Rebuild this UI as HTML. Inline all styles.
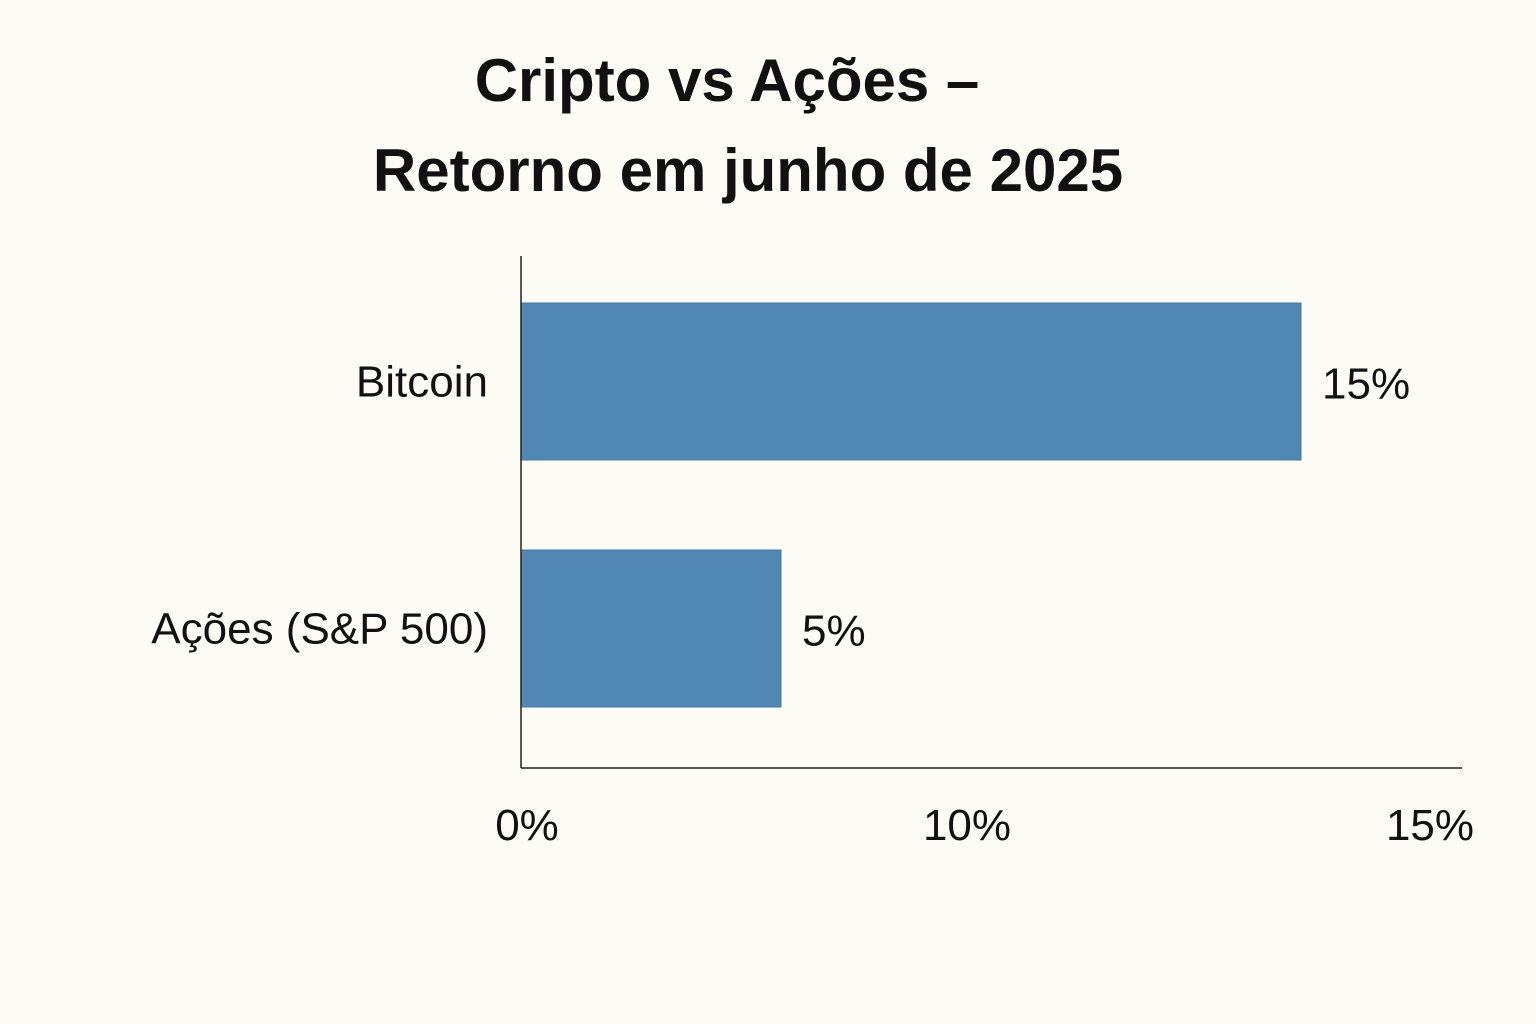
<!DOCTYPE html>
<html><head><meta charset="utf-8"><style>
html,body{margin:0;padding:0;background:#fdfbf5;}
svg{display:block;font-family:"Liberation Sans",sans-serif;}
</style></head><body>
<svg id="chart" width="1536" height="1024" viewBox="0 0 1536 1024">
<rect x="0" y="0" width="1536" height="1024" fill="#fdfbf5"/>
<text x="727" y="101" text-anchor="middle" font-size="60" font-weight="bold" fill="#111">Cripto vs Ações –</text>
<text x="748" y="191" text-anchor="middle" font-size="60" font-weight="bold" fill="#111">Retorno em junho de 2025</text>
<g id="bars"></g>
<line x1="521" y1="256" x2="521" y2="768" stroke="#222" stroke-width="1.5"/>
<line x1="521" y1="768" x2="1462" y2="768" stroke="#222" stroke-width="1.5"/>
<text x="527" y="840" text-anchor="middle" font-size="44" fill="#111">0%</text>
<text x="967" y="840" text-anchor="middle" font-size="44" fill="#111">10%</text>
<text x="1430" y="840" text-anchor="middle" font-size="44" fill="#111">15%</text>
</svg>
<script>
const categories = ["Bitcoin", "Ações (S&P 500)"];
const values = [15, 5];
const valueLabels = ["15%", "5%"];

const x0 = 521, pxPerUnit = 52;
function xScale(v){ return x0 + v * pxPerUnit; }
const bandTop = 303, bandStep = 247, barH = 157;
function yScale(i){ return bandTop + i * bandStep; }

const g = document.getElementById('bars');
const NS = 'http://www.w3.org/2000/svg';
categories.forEach((c, i) => {
  const y = yScale(i);
  const r = document.createElementNS(NS, 'rect');
  
  
  r.setAttribute('x', x0);
  r.setAttribute('y', y);
  r.setAttribute('width', xScale(values[i]) - x0);
  r.setAttribute('height', barH);
  r.setAttribute('fill', '#5087b5');
  r.setAttribute('stroke', '#3f78a8');
  r.setAttribute('stroke-width', '1');
  g.appendChild(r);

  const lab = document.createElementNS(NS, 'text');
  
  
  lab.setAttribute('x', 488);
  lab.setAttribute('y', y + barH / 2 + 15);
  lab.setAttribute('text-anchor', 'end');
  lab.setAttribute('font-size', '44');
  lab.setAttribute('fill', '#111');
  lab.textContent = c;
  g.appendChild(lab);

  const vl = document.createElementNS(NS, 'text');
  
  
  vl.setAttribute('x', xScale(values[i]) + 21);
  vl.setAttribute('y', y + barH / 2 + 17);
  vl.setAttribute('font-size', '44');
  vl.setAttribute('fill', '#111');
  vl.textContent = valueLabels[i];
  g.appendChild(vl);
});
</script>
</body></html>
